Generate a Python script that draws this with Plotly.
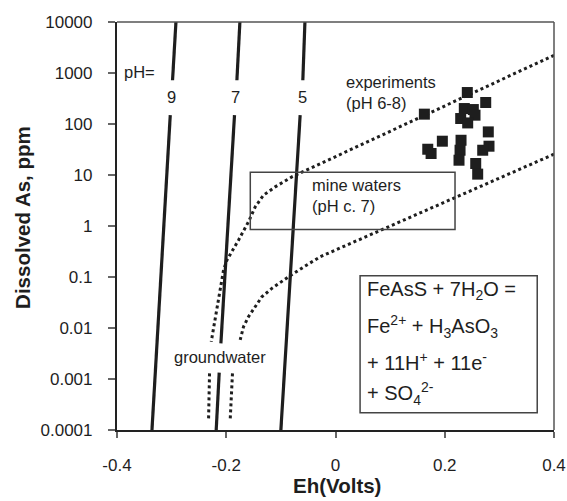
import numpy as np
import plotly.graph_objects as go

# ---------------- data ----------------
# pH lines (Eh in volts, dissolved As in ppm); None = gap for the label
ph9_eh = [-0.2915, -0.2983, None, -0.3025, -0.3360]
ph9_as = [12940, 721, None, 149, 0.0001]
ph7_eh = [-0.1745, -0.1805, None, -0.1849, -0.2098, None, -0.2129, -0.2184]
ph7_as = [12940, 721, None, 149, 0.0050, None, 0.00133, 0.0001]
ph5_eh = [-0.0556, -0.0598, None, -0.0647, -0.1000]
ph5_as = [12940, 721, None, 149, 0.0001]
ph_labels = ["9", "7", "5"]
ph_label_eh = [-0.2994, -0.1823, -0.0598]
ph_label_as = 342

# dotted envelope lines
upper_eh = [0.4, -0.0556, -0.0799, -0.1104, -0.1318, -0.1470, -0.1593, -0.1776,
            -0.1896, -0.1988, -0.2050, -0.2110, -0.2171, -0.2233, -0.2275, None,
            -0.2306, -0.2324]
upper_as = [2228, 12.4, 9.18, 5.85, 4.03, 2.37, 1.21, 0.528, 0.312, 0.214, 0.136,
            0.0553, 0.0224, 0.0106, 0.00537, None, 0.00129, 0.000157]
lower_eh = [0.4, 0.0785, -0.0281, -0.0556, -0.0861, -0.1165, -0.1348, -0.1470,
            -0.1593, -0.1684, -0.1745, None, -0.1886, -0.1928]
lower_as = [25.6, 0.769, 0.249, 0.164, 0.101, 0.0598, 0.0409, 0.0261, 0.0166,
            0.0106, 0.00581, None, 0.00129, 0.000157]

# experiments (pH 6-8)
exp_eh = [0.1627, 0.2413, 0.2750, 0.2358, 0.2523, 0.2292, 0.2554, 0.2420, 0.2797,
          0.1956, 0.1689, 0.1750, 0.2298, 0.2280, 0.2261, 0.2810, 0.2695, 0.2567,
          0.2603]
exp_as = [156, 414, 264, 201, 192, 128, 149, 105, 70, 46, 32, 26.4, 48, 30.6, 19.5,
          36.7, 30.6, 16.8, 10.4]

x_ticks = [-0.4, -0.2, 0, 0.2, 0.4]
x_ticktext = ["-0.4", "-0.2", "0", "0.2", "0.4"]
y_ticks = [0.0001, 0.001, 0.01, 0.1, 1, 10, 100, 1000, 10000]
y_ticktext = ["0.0001", "0.001", "0.01", "0.1", "1", "10", "100", "1000", "10000"]

FONT = "Liberation Sans, Arial, Helvetica, sans-serif"
INK = "#1e1e1e"

fig = go.Figure()

for ex, ey in [(ph9_eh, ph9_as), (ph7_eh, ph7_as), (ph5_eh, ph5_as)]:
    fig.add_trace(go.Scatter(x=ex, y=ey, mode="lines", cliponaxis=False,
                             line=dict(color=INK, width=3.2), hoverinfo="skip",
                             showlegend=False))

for ex, ey in [(upper_eh, upper_as), (lower_eh, lower_as)]:
    fig.add_trace(go.Scatter(x=ex, y=ey, mode="lines",
                             line=dict(color=INK, width=3, dash="3px,3px"),
                             hoverinfo="skip", showlegend=False))

fig.add_trace(go.Scatter(x=exp_eh, y=exp_as, mode="markers",
                         marker=dict(symbol="square", size=11, color=INK,
                                     line=dict(width=0)),
                         showlegend=False))

ann = []
def label(text, x, y, size=16.5, xanchor="left", **kw):
    ann.append(dict(text=text, x=x, y=np.log10(y), xref="x", yref="y",
                    showarrow=False, xanchor=xanchor, yanchor="middle",
                    font=dict(family=FONT, size=size, color=INK), **kw))

label("pH=", -0.3909, 1057)
for t, ex in zip(ph_labels, ph_label_eh):
    label(t, ex, ph_label_as, xanchor="center")
label("experiments<br>(pH 6-8)", 0.0158, 420, align="left")
label("mine waters<br>(pH c. 7)", -0.0464, 3.9, align="left")
label("groundwater", -0.211, 0.00274, xanchor="center")
eq_lines = ["FeAsS + 7H<sub>2</sub>O =",
            "Fe<sup>2+</sup> + H<sub>3</sub>AsO<sub>3</sub>",
            "+ 11H<sup>+</sup> + 11e<sup>-</sup>",
            "+ SO<sub>4</sub><sup>2-</sup>"]
eq_y = [10 ** -1.257, 10 ** -1.962, 10 ** -2.648, 10 ** -3.288]
for t, ey in zip(eq_lines, eq_y):
    label(t, 0.0542, ey, size=20)

# axis titles
ann.append(dict(text="<b>Dissolved As, ppm</b>", x=-0.215, y=0.52, xref="paper",
                yref="paper", textangle=-90, showarrow=False, xanchor="center",
                yanchor="middle", font=dict(family=FONT, size=20.5, color=INK)))
ann.append(dict(text="<b>Eh(Volts)</b>", x=0.503, y=-0.135, xref="paper",
                yref="paper", showarrow=False, xanchor="center", yanchor="middle",
                font=dict(family=FONT, size=20.5, color=INK)))

shapes = [
    dict(type="rect", xref="x", yref="y domain", x0=-0.156, x1=0.2188,
         y0=0.4915, y1=0.632, line=dict(color="#444", width=1.5)),
    dict(type="rect", xref="x", yref="y domain", x0=0.045, x1=0.3693,
         y0=0.0424, y1=0.378, line=dict(color="#444", width=1.5)),
    dict(type="line", xref="paper", yref="paper", x0=0, x1=1, y0=1, y1=1,
         line=dict(color="#555", width=1.5)),
    dict(type="line", xref="paper", yref="paper", x0=1, x1=1, y0=0, y1=1,
         line=dict(color="#555", width=1.5)),
]

fig.update_layout(
    width=567, height=501, autosize=False,
    margin=dict(l=117, r=13, t=22, b=71, autoexpand=False),
    paper_bgcolor="white", plot_bgcolor="white",
    font=dict(family=FONT, size=17, color=INK),
    annotations=ann, shapes=shapes, showlegend=False,
    xaxis=dict(range=[-0.4, 0.4], tickvals=x_ticks, ticktext=x_ticktext,
               showgrid=False, zeroline=False, showline=True, linewidth=2.2,
               linecolor="#222", ticks="outside", ticklen=6, tickwidth=1.5,
               tickcolor="#666", ticklabelstandoff=12, automargin=False,
               tickfont=dict(family=FONT, size=17, color=INK)),
    yaxis=dict(type="log", range=[-4, 4], tickvals=y_ticks, ticktext=y_ticktext,
               showgrid=False, zeroline=False, showline=True, linewidth=2.2,
               linecolor="#222", ticks="outside", ticklen=7, tickwidth=1.5,
               tickcolor="#666", ticklabelstandoff=12, automargin=False,
               tickfont=dict(family=FONT, size=17, color=INK)),
)

fig.write_html("out.html",
               config={"displayModeBar": False},
               post_script="document.body.style.margin='0';"
                           "document.body.style.overflow='hidden';")
